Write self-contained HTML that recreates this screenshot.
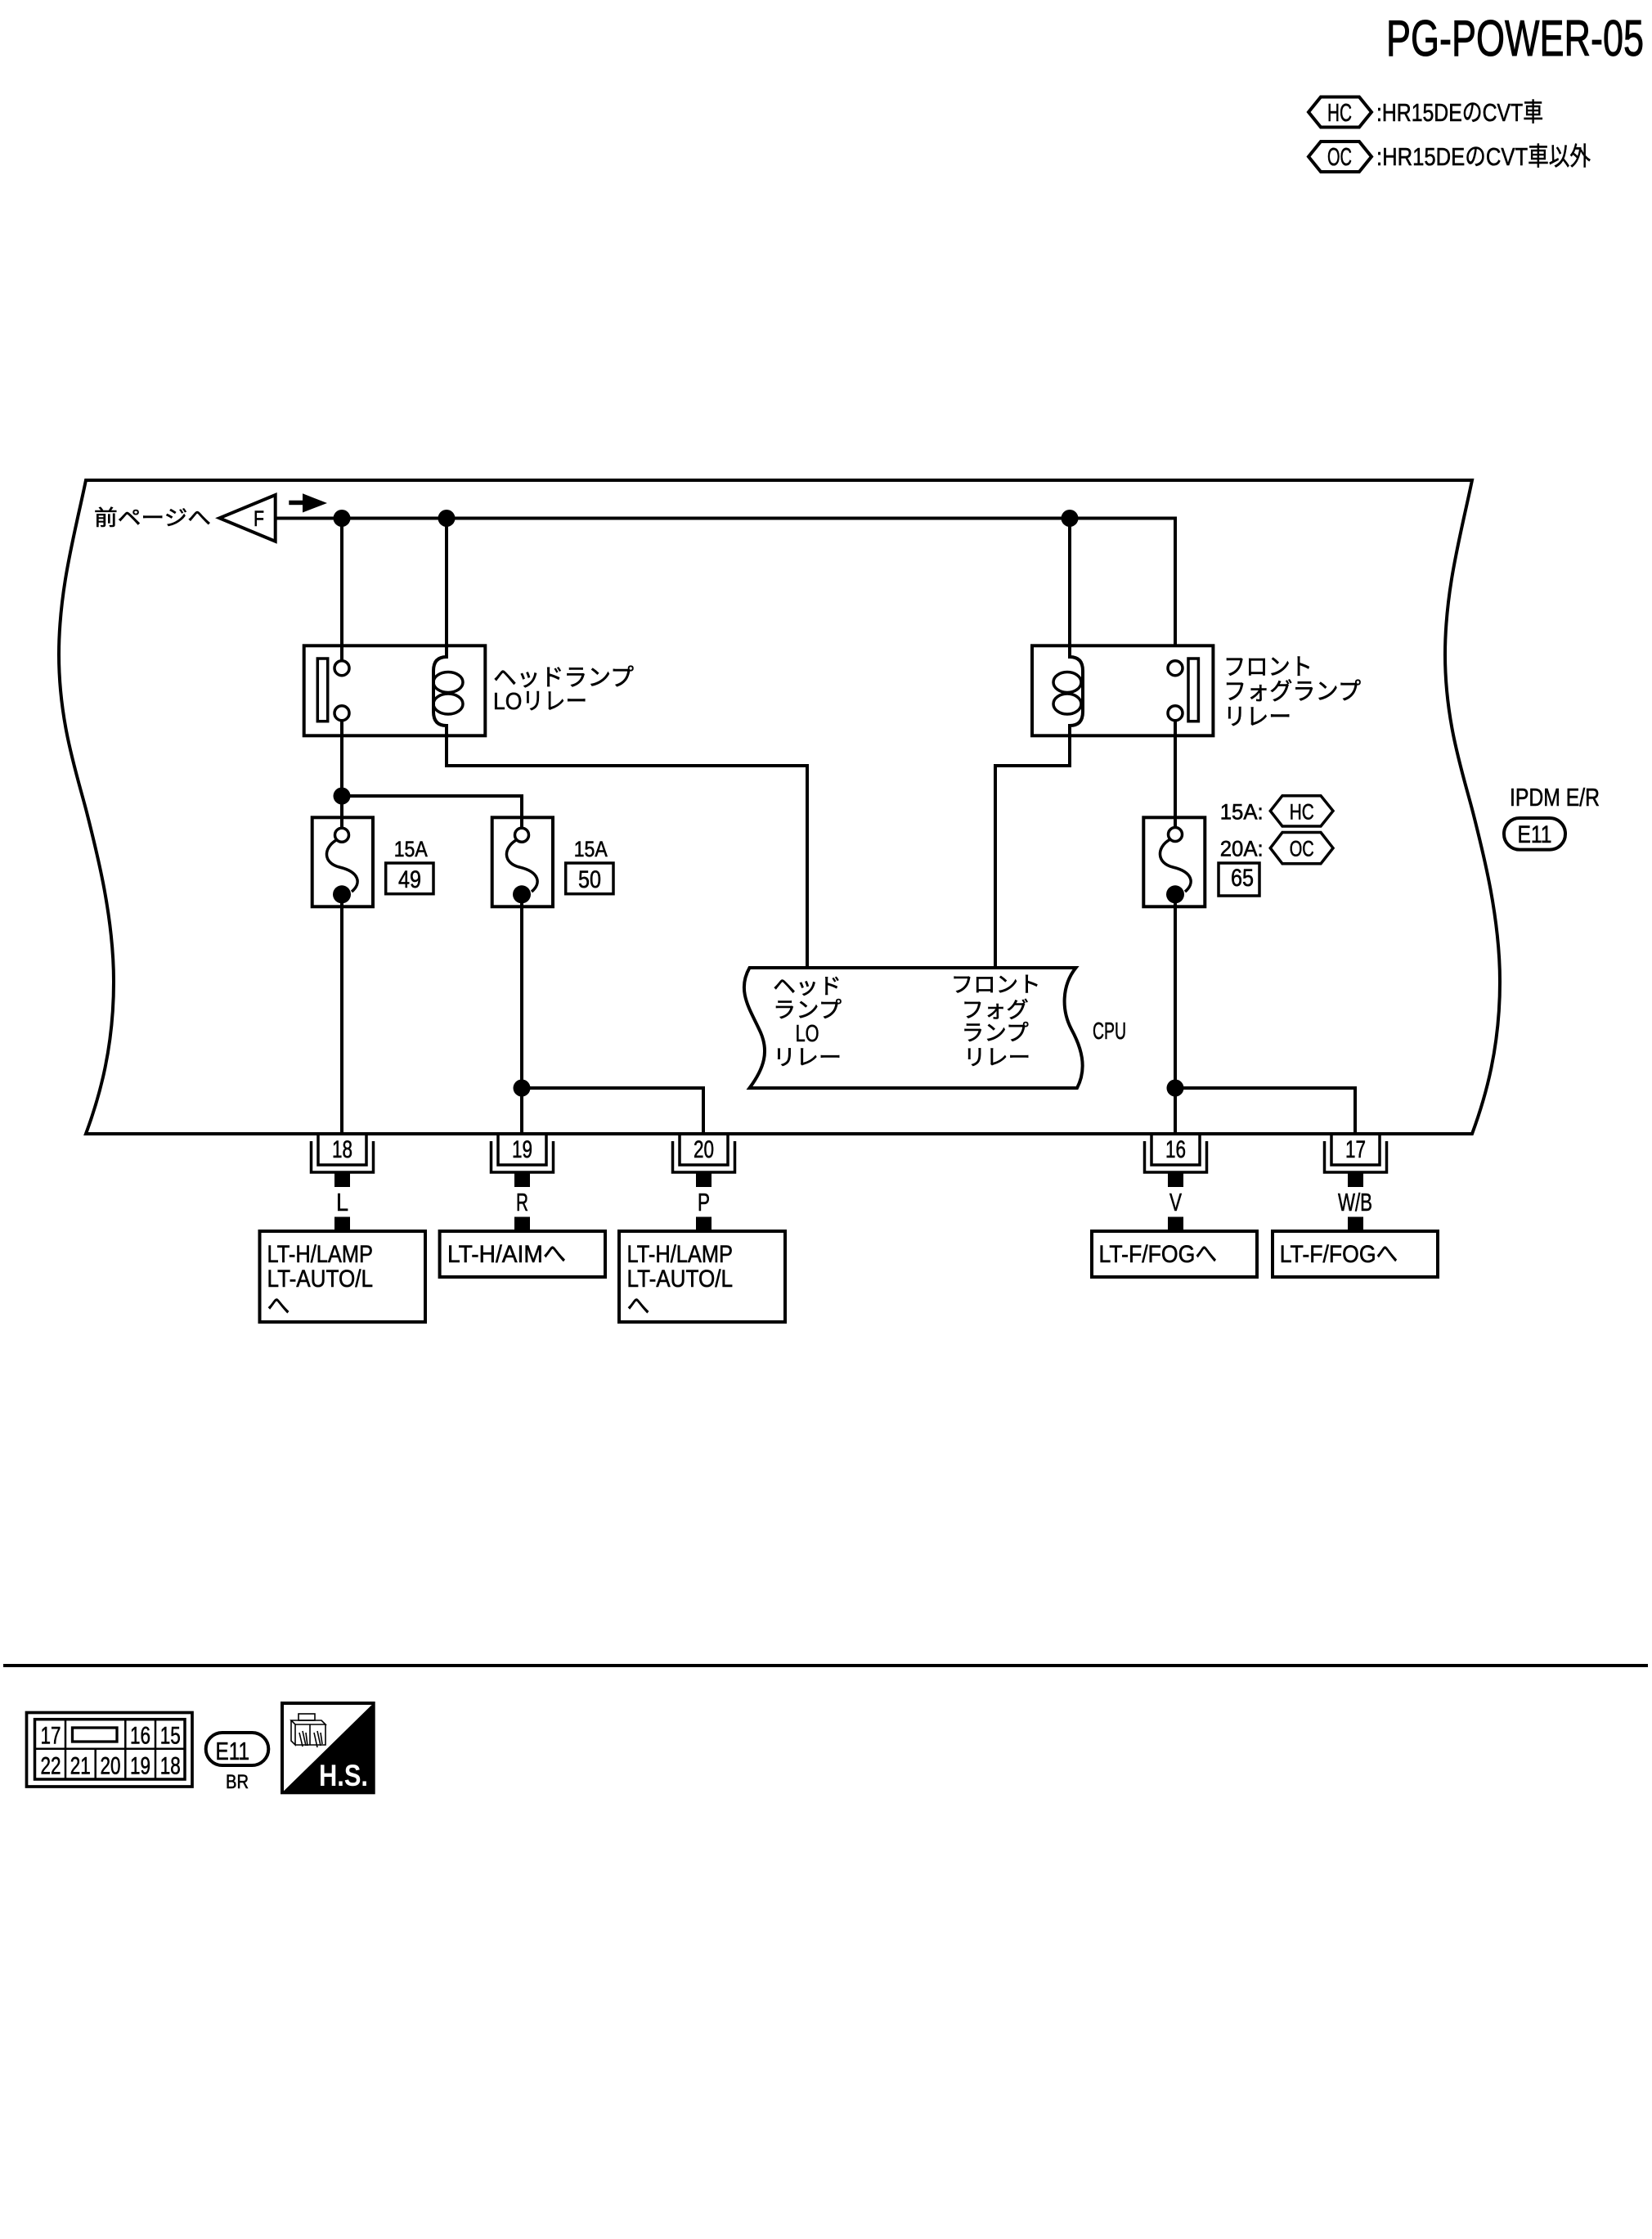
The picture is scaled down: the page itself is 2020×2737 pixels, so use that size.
<!DOCTYPE html>
<html><head><meta charset="utf-8">
<style>
html,body{margin:0;padding:0;background:#fff;}
svg{display:block;}
text{font-family:"Liberation Sans","Noto Sans CJK JP",sans-serif;fill:#000;stroke:#000;stroke-width:0.6;}
.w{fill:none;stroke:#000;stroke-width:4;}
.b{fill:#fff;stroke:#000;stroke-width:4;}
.d{fill:#000;stroke:none;}
</style></head>
<body>
<svg width="2020" height="2737" viewBox="0 0 2020 2737" xmlns="http://www.w3.org/2000/svg">
<rect x="0" y="0" width="2020" height="2737" fill="#fff"/>

<!-- Title -->
<text x="1695" y="68" font-size="62" textLength="315" lengthAdjust="spacingAndGlyphs" style="stroke-width:1">PG-POWER-05</text>

<!-- Legend -->
<polygon class="b" points="1600,137 1615,118.5 1662,118.5 1677,137 1662,155.5 1615,155.5"/>
<text x="1623" y="148" font-size="31" textLength="30" lengthAdjust="spacingAndGlyphs">HC</text>
<text x="1683" y="148" font-size="31" textLength="204" lengthAdjust="spacingAndGlyphs">:HR15DEのCVT車</text>
<polygon class="b" points="1600,191.5 1615,173 1662,173 1677,191.5 1662,210 1615,210"/>
<text x="1623" y="202" font-size="31" textLength="30" lengthAdjust="spacingAndGlyphs">OC</text>
<text x="1683" y="202" font-size="31" textLength="262" lengthAdjust="spacingAndGlyphs">:HR15DEのCVT車以外</text>

<!-- Main IPDM border -->
<path class="w" d="M105,587 L1800,587 C1787,650 1767,720 1767,800 C1767,880 1787,940 1800,989 C1813,1040 1834,1120 1834,1200 C1834,1280 1817,1340 1800,1386 L105,1386 C122,1340 139,1280 139,1200 C139,1120 118,1040 105,989 C92,940 72,880 72,800 C72,720 92,650 105,587 Z"/>

<!-- Flag & arrow -->
<text x="115" y="642" font-size="26" textLength="143" lengthAdjust="spacingAndGlyphs">前ページへ</text>
<polygon class="b" points="268.3,633.3 336.7,605 336.7,661.7"/>
<text x="310" y="643" font-size="27" textLength="13" lengthAdjust="spacingAndGlyphs">F</text>
<rect class="d" x="353.3" y="611.7" width="20" height="5.5"/>
<polygon class="d" points="370,603.3 400,615 370,626.5"/>

<!-- Bus line -->
<path class="w" d="M336.7,633.5 L1437,633.5 L1437,807.5"/>

<!-- Headlamp LO relay -->
<rect class="b" x="371.7" y="789.3" width="221.6" height="110"/>
<rect class="b" x="388.3" y="805" width="12.4" height="76.7" style="stroke-width:3.5"/>
<path class="w" d="M418,633.5 L418,807.7"/>
<circle class="b" cx="418" cy="816.7" r="9" style="stroke-width:3.5"/>
<circle class="b" cx="418" cy="871.7" r="9" style="stroke-width:3.5"/>
<path class="w" d="M546,633.5 L546,803 Q530,803 530,820 L530,870 Q530,887 546,887 L546,936 L987,936 L987,1183"/>
<ellipse class="w" cx="548" cy="834" rx="18" ry="12.5" style="stroke-width:3.5"/>
<ellipse class="w" cx="548" cy="860.5" rx="18" ry="12.5" style="stroke-width:3.5"/>
<text x="603" y="838" font-size="29" textLength="172" lengthAdjust="spacingAndGlyphs">ヘッドランプ</text>
<text x="603" y="867" font-size="29" textLength="115" lengthAdjust="spacingAndGlyphs">LOリレー</text>

<!-- Front fog relay -->
<rect class="b" x="1262" y="789.3" width="221.4" height="110"/>
<rect class="b" x="1453" y="805" width="12.4" height="76.7" style="stroke-width:3.5"/>
<circle class="b" cx="1437" cy="816.7" r="9" style="stroke-width:3.5"/>
<circle class="b" cx="1437" cy="871.7" r="9" style="stroke-width:3.5"/>
<path class="w" d="M1308,633.5 L1308,803 Q1324,803 1324,820 L1324,870 Q1324,887 1308,887 L1308,936 L1217,936 L1217,1183"/>
<ellipse class="w" cx="1305" cy="834" rx="17" ry="12.5" style="stroke-width:3.5"/>
<ellipse class="w" cx="1305" cy="860.5" rx="17" ry="12.5" style="stroke-width:3.5"/>
<text x="1496" y="825" font-size="29" textLength="109" lengthAdjust="spacingAndGlyphs">フロント</text>
<text x="1496" y="855" font-size="29" textLength="168" lengthAdjust="spacingAndGlyphs">フォグランプ</text>
<text x="1496" y="886" font-size="29" textLength="83" lengthAdjust="spacingAndGlyphs">リレー</text>

<!-- Wires below relays -->
<path class="w" d="M418,880.7 L418,1012"/>
<path class="w" d="M418,973 L638,973 L638,1012"/>
<path class="w" d="M1437,880.7 L1437,1011"/>

<!-- Fuse 49 -->
<rect class="b" x="381.7" y="999.3" width="74.3" height="109"/>
<path class="w" d="M418,973 L418,1012"/>
<circle class="b" cx="418" cy="1020.7" r="8.5" style="stroke-width:3.5"/>
<path class="w" d="M411,1027 C395,1037 395,1055 415,1060 C440,1066 442,1080 430,1090" style="stroke-width:3.5"/>
<circle class="d" cx="418" cy="1093.3" r="11"/>
<path class="w" d="M418,1093 L418,1386"/>
<text x="481.7" y="1047" font-size="27" textLength="41" lengthAdjust="spacingAndGlyphs">15A</text>
<rect class="b" x="471.7" y="1055" width="58.3" height="37.7" style="stroke-width:3.5"/>
<text x="487" y="1085" font-size="30" textLength="28" lengthAdjust="spacingAndGlyphs">49</text>

<!-- Fuse 50 -->
<rect class="b" x="601.7" y="999.3" width="74.3" height="109"/>
<path class="w" d="M638,973 L638,1012"/>
<circle class="b" cx="638" cy="1020.7" r="8.5" style="stroke-width:3.5"/>
<path class="w" d="M631,1027 C615,1037 615,1055 635,1060 C660,1066 662,1080 650,1090" style="stroke-width:3.5"/>
<circle class="d" cx="638" cy="1093.3" r="11"/>
<path class="w" d="M638,1093 L638,1386"/>
<text x="701.7" y="1047" font-size="27" textLength="41" lengthAdjust="spacingAndGlyphs">15A</text>
<rect class="b" x="691.7" y="1055" width="58.3" height="37.7" style="stroke-width:3.5"/>
<text x="707" y="1085" font-size="30" textLength="28" lengthAdjust="spacingAndGlyphs">50</text>

<!-- Fuse 65 -->
<rect class="b" x="1398.3" y="999.3" width="75" height="109"/>
<path class="w" d="M1437,973 L1437,1011"/>
<circle class="b" cx="1437" cy="1020" r="8.5" style="stroke-width:3.5"/>
<path class="w" d="M1430,1026.5 C1414,1036 1414,1055 1434,1060 C1459,1066 1461,1080 1449,1090" style="stroke-width:3.5"/>
<circle class="d" cx="1437" cy="1093.3" r="11"/>
<path class="w" d="M1437,1093 L1437,1386"/>
<text x="1491.7" y="1001.7" font-size="27" textLength="53" lengthAdjust="spacingAndGlyphs">15A:</text>
<polygon class="b" points="1553.3,991.3 1568,972.7 1615,972.7 1630,991.3 1615,1010 1568,1010" style="stroke-width:3.5"/>
<text x="1576.7" y="1001.7" font-size="27" textLength="30" lengthAdjust="spacingAndGlyphs">HC</text>
<text x="1491.7" y="1046.7" font-size="27" textLength="53" lengthAdjust="spacingAndGlyphs">20A:</text>
<polygon class="b" points="1553.3,1036.7 1568,1017.5 1615,1017.5 1630,1036.7 1615,1055.8 1568,1055.8" style="stroke-width:3.5"/>
<text x="1576.7" y="1046.7" font-size="27" textLength="30" lengthAdjust="spacingAndGlyphs">OC</text>
<rect class="b" x="1490" y="1055" width="50" height="40" style="stroke-width:3.5"/>
<text x="1505" y="1083" font-size="30" textLength="28" lengthAdjust="spacingAndGlyphs">65</text>

<!-- IPDM label -->
<text x="1846" y="985" font-size="31" textLength="110" lengthAdjust="spacingAndGlyphs">IPDM E/R</text>
<rect class="b" x="1839" y="1000" width="75" height="38.6" rx="19" ry="19"/>
<text x="1855.5" y="1030" font-size="30" textLength="42" lengthAdjust="spacingAndGlyphs">E11</text>

<!-- CPU -->
<path class="b" d="M916.5,1183 L1315.5,1183 C1298,1205 1298,1235 1310,1258 C1322,1280 1330,1305 1317,1330 L916.5,1330 C935,1305 940,1285 930,1262 C918,1235 900,1212 916.5,1183 Z"/>
<text x="945" y="1215" font-size="27" textLength="84" lengthAdjust="spacingAndGlyphs">ヘッド</text>
<text x="945" y="1244" font-size="27" textLength="84" lengthAdjust="spacingAndGlyphs">ランプ</text>
<text x="972.6" y="1273" font-size="29" textLength="29" lengthAdjust="spacingAndGlyphs">LO</text>
<text x="945" y="1302" font-size="27" textLength="84" lengthAdjust="spacingAndGlyphs">リレー</text>
<text x="1162.6" y="1213" font-size="27" textLength="110" lengthAdjust="spacingAndGlyphs">フロント</text>
<text x="1175.7" y="1244" font-size="27" textLength="82" lengthAdjust="spacingAndGlyphs">フォグ</text>
<text x="1175.7" y="1272" font-size="27" textLength="82" lengthAdjust="spacingAndGlyphs">ランプ</text>
<text x="1178" y="1302" font-size="27" textLength="82" lengthAdjust="spacingAndGlyphs">リレー</text>
<text x="1336" y="1270" font-size="29" textLength="41" lengthAdjust="spacingAndGlyphs">CPU</text>

<!-- Lower branches -->
<path class="w" d="M638,1330 L860,1330 L860,1386"/>
<path class="w" d="M1437,1330 L1657,1330 L1657,1386"/>

<!-- Junction dots -->
<circle class="d" cx="418" cy="633.5" r="10.5"/>
<circle class="d" cx="546" cy="633.5" r="10.5"/>
<circle class="d" cx="1308" cy="633.5" r="10.5"/>
<circle class="d" cx="418" cy="973" r="10.5"/>
<circle class="d" cx="638" cy="1330" r="10.5"/>
<circle class="d" cx="1437" cy="1330" r="10.5"/>

<!-- Connectors -->
<g style="fill:none;stroke:#000;stroke-width:3.5">
<path d="M389,1386 L389,1424 L448,1424 L448,1386"/><path d="M380.5,1395 L380.5,1433 L456.5,1433 L456.5,1395"/>
<path d="M609,1386 L609,1424 L668,1424 L668,1386"/><path d="M600.5,1395 L600.5,1433 L676.5,1433 L676.5,1395"/>
<path d="M831,1386 L831,1424 L890,1424 L890,1386"/><path d="M822.5,1395 L822.5,1433 L898.5,1433 L898.5,1395"/>
<path d="M1408,1386 L1408,1424 L1467,1424 L1467,1386"/><path d="M1399.5,1395 L1399.5,1433 L1475.5,1433 L1475.5,1395"/>
<path d="M1628,1386 L1628,1424 L1687,1424 L1687,1386"/><path d="M1619.5,1395 L1619.5,1433 L1695.5,1433 L1695.5,1395"/>
</g>
<g class="d">
<rect x="409" y="1433" width="19" height="18"/><rect x="409" y="1487.5" width="19" height="17.5"/>
<rect x="629" y="1433" width="19" height="18"/><rect x="629" y="1487.5" width="19" height="17.5"/>
<rect x="851" y="1433" width="19" height="18"/><rect x="851" y="1487.5" width="19" height="17.5"/>
<rect x="1428" y="1433" width="19" height="18"/><rect x="1428" y="1487.5" width="19" height="17.5"/>
<rect x="1648" y="1433" width="19" height="18"/><rect x="1648" y="1487.5" width="19" height="17.5"/>
</g>
<g font-size="30">
<text x="406" y="1415" textLength="25" lengthAdjust="spacingAndGlyphs">18</text>
<text x="626" y="1415" textLength="25" lengthAdjust="spacingAndGlyphs">19</text>
<text x="848" y="1415" textLength="25" lengthAdjust="spacingAndGlyphs">20</text>
<text x="1425" y="1415" textLength="25" lengthAdjust="spacingAndGlyphs">16</text>
<text x="1645" y="1415" textLength="25" lengthAdjust="spacingAndGlyphs">17</text>
</g>
<g font-size="31">
<text x="411" y="1480" textLength="15" lengthAdjust="spacingAndGlyphs">L</text>
<text x="631" y="1480" textLength="15" lengthAdjust="spacingAndGlyphs">R</text>
<text x="853" y="1480" textLength="15" lengthAdjust="spacingAndGlyphs">P</text>
<text x="1430" y="1480" textLength="15" lengthAdjust="spacingAndGlyphs">V</text>
<text x="1636" y="1480" textLength="42" lengthAdjust="spacingAndGlyphs">W/B</text>
</g>

<!-- Destination boxes -->
<rect class="b" x="317.5" y="1505" width="202.5" height="111"/>
<text x="326.5" y="1543" font-size="30" textLength="129.5" lengthAdjust="spacingAndGlyphs">LT-H/LAMP</text>
<text x="326.5" y="1573" font-size="30" textLength="129.5" lengthAdjust="spacingAndGlyphs">LT-AUTO/L</text>
<text x="326.5" y="1606" font-size="29" textLength="28" lengthAdjust="spacingAndGlyphs">へ</text>

<rect class="b" x="537.6" y="1505" width="202.4" height="56"/>
<text x="547" y="1543" font-size="30" textLength="145" lengthAdjust="spacingAndGlyphs">LT-H/AIMへ</text>

<rect class="b" x="757" y="1505" width="203" height="111"/>
<text x="766.5" y="1543" font-size="30" textLength="129.5" lengthAdjust="spacingAndGlyphs">LT-H/LAMP</text>
<text x="766.5" y="1573" font-size="30" textLength="129.5" lengthAdjust="spacingAndGlyphs">LT-AUTO/L</text>
<text x="766.5" y="1606" font-size="29" textLength="28" lengthAdjust="spacingAndGlyphs">へ</text>

<rect class="b" x="1335" y="1505" width="202" height="56"/>
<text x="1343.5" y="1543" font-size="30" textLength="144.5" lengthAdjust="spacingAndGlyphs">LT-F/FOGへ</text>

<rect class="b" x="1556" y="1505" width="202" height="56"/>
<text x="1564.7" y="1543" font-size="30" textLength="144.5" lengthAdjust="spacingAndGlyphs">LT-F/FOGへ</text>

<!-- Separator -->
<path d="M4,2036 L2015,2036" stroke="#000" stroke-width="4"/>

<!-- Connector face diagram -->
<rect x="32.5" y="2093.5" width="202.5" height="90.5" fill="#fff" stroke="#000" stroke-width="3.7"/>
<rect x="42.5" y="2101.7" width="183.5" height="73.3" fill="#fff" stroke="#000" stroke-width="3.5"/>
<g stroke="#000" stroke-width="2.5">
<path d="M42.5,2137.7 L226,2137.7"/>
<path d="M80,2101.7 L80,2175"/>
<path d="M116.7,2137.7 L116.7,2175"/>
<path d="M153.3,2101.7 L153.3,2175"/>
<path d="M190,2101.7 L190,2175"/>
</g>
<rect x="88.5" y="2112" width="54.5" height="17" fill="#fff" stroke="#000" stroke-width="3.3"/>
<g font-size="30">
<text x="49.5" y="2131.5" textLength="25" lengthAdjust="spacingAndGlyphs">17</text>
<text x="159" y="2131.5" textLength="25" lengthAdjust="spacingAndGlyphs">16</text>
<text x="195.8" y="2131.5" textLength="25" lengthAdjust="spacingAndGlyphs">15</text>
<text x="49.5" y="2168.3" textLength="25" lengthAdjust="spacingAndGlyphs">22</text>
<text x="85.8" y="2168.3" textLength="25" lengthAdjust="spacingAndGlyphs">21</text>
<text x="122.5" y="2168.3" textLength="25" lengthAdjust="spacingAndGlyphs">20</text>
<text x="159" y="2168.3" textLength="25" lengthAdjust="spacingAndGlyphs">19</text>
<text x="195.8" y="2168.3" textLength="25" lengthAdjust="spacingAndGlyphs">18</text>
</g>

<!-- E11 BR -->
<rect x="251.7" y="2118" width="76.6" height="40" rx="20" ry="20" fill="#fff" stroke="#000" stroke-width="4"/>
<text x="263.5" y="2151" font-size="31" textLength="41.5" lengthAdjust="spacingAndGlyphs">E11</text>
<text x="276" y="2186" font-size="24" textLength="28" lengthAdjust="spacingAndGlyphs">BR</text>

<!-- H.S. icon -->
<rect x="345" y="2082" width="111.7" height="109.3" fill="#fff" stroke="#000" stroke-width="4"/>
<polygon points="456.7,2082 456.7,2191.3 345,2191.3" fill="#000"/>
<g fill="none" stroke="#000" stroke-width="1.6">
<rect x="365" y="2095" width="20" height="8"/>
<path d="M356,2103 L393,2103 L398,2108 L361,2108 Z"/>
<path d="M356,2103 L356,2128 L361,2133 L361,2108"/>
<path d="M361,2133 L398,2133 L398,2108"/>
<path d="M379,2108 L379,2133"/>
<path d="M366,2118 L370,2135 M370,2116 L374,2134 M374,2118 L376,2134 M384,2118 L388,2136 M388,2116 L392,2134 M392,2118 L394,2132"/>
</g>
<text x="390" y="2183" font-size="37" font-weight="bold" textLength="60" lengthAdjust="spacingAndGlyphs" style="fill:#fff;stroke:none">H.S.</text>
</svg>
</body></html>
